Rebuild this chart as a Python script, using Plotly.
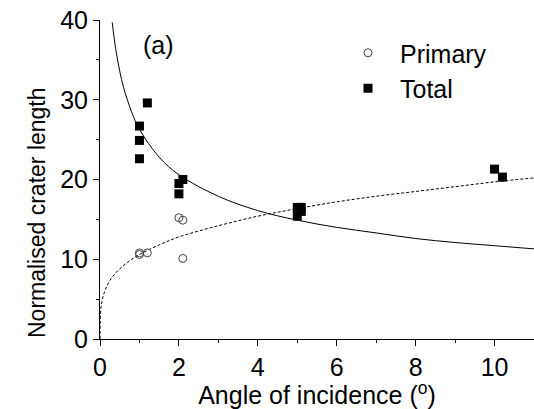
import plotly.graph_objects as go

# Data
primary_x = [1.0, 1.0, 1.2, 2.0, 2.1, 2.1]
primary_y = [10.6, 10.8, 10.8, 15.2, 14.9, 10.1]

total_x = [1.0, 1.0, 1.0, 1.2, 2.0, 2.0, 2.1, 5.0, 5.0, 5.1, 5.1, 10.0, 10.2]
total_y = [26.7, 24.9, 22.6, 29.6, 19.5, 18.2, 20.0, 16.5, 15.4, 16.5, 16.0, 21.3, 20.3]

# Fit curves
solid_x = [0.31, 0.4, 0.5, 0.6, 0.8, 1.0, 1.5, 2.0, 3.0, 4.0, 5.0, 6.0, 7.0, 8.0, 9.0, 10.0, 11.0]
solid_y = [39.7, 36.3, 33.6, 31.5, 28.5, 26.3, 22.8, 20.6, 17.9, 16.1, 14.9, 14.0, 13.3, 12.6, 12.1, 11.7, 11.3]

dashed_x = [0.0, 0.02, 0.05, 0.1, 0.2, 0.3, 0.5, 0.75, 1.0, 1.5, 2.0, 3.0, 4.0, 5.0, 6.0, 7.0, 8.0, 9.0, 10.0, 11.0]
dashed_y = [0.0, 3.7, 4.7, 5.7, 6.9, 7.7, 8.8, 9.8, 10.6, 11.8, 12.8, 14.2, 15.4, 16.35, 17.2, 17.9, 18.5, 19.1, 19.7, 20.2]

FONT = "Liberation Sans, Arial, sans-serif"
FS = 25
TFS = 23

fig = go.Figure()
fig.add_trace(go.Scatter(x=solid_x, y=solid_y, mode="lines", line=dict(color="black", width=1, shape="spline"),
                         showlegend=False, hoverinfo="skip"))
fig.add_trace(go.Scatter(x=dashed_x, y=dashed_y, mode="lines",
                         line=dict(color="black", width=1, dash="3px,2px", shape="spline"),
                         showlegend=False, hoverinfo="skip"))
fig.add_trace(go.Scatter(x=primary_x, y=primary_y, mode="markers", name="Primary",
                         marker=dict(symbol="circle-open", size=8, color="#444", line=dict(width=1, color="#444"))))
fig.add_trace(go.Scatter(x=total_x, y=total_y, mode="markers", name="Total",
                         marker=dict(symbol="square", size=9, color="black")))

fig.add_annotation(x=1.49, y=36.9, text="(a)", showarrow=False, font=dict(size=FS, color="black", family=FONT))
fig.add_annotation(xref="paper", yref="paper", x=(22 - 100) / 434, y=(339 - 213) / 319,
                   text="Normalised crater length", textangle=-90, showarrow=False,
                   font=dict(size=TFS, color="black", family=FONT))

fig.update_layout(
    width=534, height=409,
    margin=dict(l=100, r=0, t=20, b=70, autoexpand=False),
    paper_bgcolor="white", plot_bgcolor="white",
    font=dict(family=FONT, color="black", size=FS),
    legend=dict(x=(336 - 100) / 434, y=(339 - 30) / 319, xanchor="left", yanchor="top", bgcolor="rgba(0,0,0,0)",
                font=dict(size=FS, family=FONT), itemwidth=54, tracegroupgap=0),
    xaxis=dict(range=[0, 11], tickvals=[0, 2, 4, 6, 8, 10], showgrid=False, zeroline=False, automargin=False,
               showline=True, linecolor="black", linewidth=1, ticks="outside", ticklen=6, tickcolor="black",
               minor=dict(tickvals=[1, 3, 5, 7, 9], ticks="outside", ticklen=3, tickcolor="black"),
               tickfont=dict(size=FS), title=dict(text="Angle of incidence (<sup>o</sup>)", font=dict(size=FS), standoff=0)),
    yaxis=dict(range=[0, 40], tickvals=[0, 10, 20, 30, 40], showgrid=False, zeroline=False, automargin=False,
               showline=True, linecolor="black", linewidth=1, ticks="outside", ticklen=6, tickcolor="black",
               minor=dict(tickvals=[5, 15, 25, 35], ticks="outside", ticklen=3, tickcolor="black"),
               tickfont=dict(size=FS)),
)

fig.write_html("out.html", config={"displayModeBar": False},
               post_script="document.body.style.margin='0';document.body.style.overflow='hidden';")
